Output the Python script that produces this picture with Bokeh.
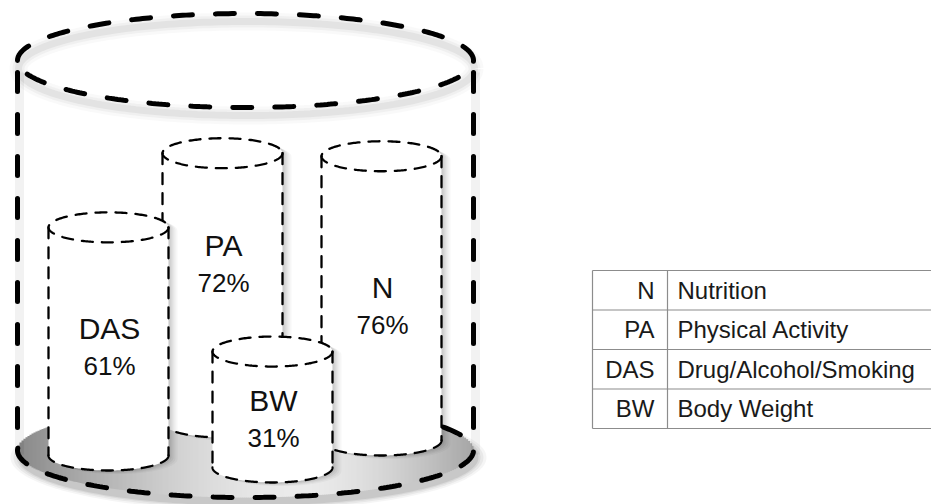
import numpy as np
from bokeh.plotting import figure
from bokeh.models import Range1d
from bokeh.core.properties import value
from bokeh.embed import file_html
from bokeh.resources import INLINE

# ---------------- data ----------------
categories = ["DAS", "PA", "N", "BW"]
percent = [61, 72, 76, 31]
legend_abbr = ["N", "PA", "DAS", "BW"]
legend_names = ["Nutrition", "Physical Activity", "Drug/Alcohol/Smoking", "Body Weight"]

# ---------------- layout (page pixels) ----------------
cyl_cx = {"DAS": 108, "PA": 222, "N": 381, "BW": 272}
cyl_base = {"DAS": 455, "PA": 422, "N": 440, "BW": 467}
label_y = {"DAS": 328, "PA": 245, "N": 287, "BW": 400}
draw_order = ["PA", "N", "DAS", "BW"]
PX_PER_PCT = 3.74
CYL_RX, CYL_RY = 60, 15

OUT_CX, OUT_RX = 245, 228
OUT_TOP_CY, OUT_TOP_RY = 60, 47
FLOOR_CY, FLOOR_RY = 450, 47

FONT = value("Liberation Sans")
W, H = 931, 504

p = figure(width=W, height=H, output_backend="svg", toolbar_location=None,
           x_range=Range1d(0, W), y_range=Range1d(H, 0),
           x_axis_location=None, y_axis_location=None, min_border=0,
           outline_line_color=None, background_fill_color="white",
           border_fill_color="white")
p.grid.visible = False


def ell(cx, cy, rx, ry, t0, t1, n=240):
    t = np.radians(np.linspace(t0, t1, n))
    return cx + rx * np.cos(t), cy + ry * np.sin(t)


# ---------------- floor: shadow + gradient ----------------
for grow, a in [(10, 0.04), (7, 0.05), (4, 0.06), (2, 0.08)]:
    fx, fy = ell(OUT_CX + 3, FLOOR_CY + 7, OUT_RX + grow, FLOOR_RY + grow * 0.6, 0, 360)
    p.patch(fx, fy, fill_color="black", fill_alpha=a, line_color=None)

# horizontal gradient in thin strips clipped to the floor ellipse
STRIP = 2.0
edges = np.arange(OUT_CX - OUT_RX, OUT_CX + OUT_RX + STRIP, STRIP)
x_left, x_right = edges[:-1], np.minimum(edges[1:] + 0.6, OUT_CX + OUT_RX)
xm = (x_left + x_right) / 2
half = FLOOR_RY * np.sqrt(np.clip(1 - ((xm - OUT_CX) / OUT_RX) ** 2, 0, 1))
HLX = 300
u = np.where(xm < HLX, (HLX - xm) / (HLX - (OUT_CX - OUT_RX)), (xm - HLX) / (OUT_CX + OUT_RX - HLX))
shade = np.where(xm < HLX, 236 - 100 * u ** 1.6, 236 - 70 * u ** 1.6).astype(int)
colors = ["#%02x%02x%02x" % (c, c, c) for c in shade]
p.quad(left=x_left, right=x_right, top=FLOOR_CY - half, bottom=FLOOR_CY + half,
       fill_color=colors, line_color=None)

OUT_STYLE = dict(line_color="black", line_width=5, line_dash="19 23", line_cap="round")
fx, fy = ell(OUT_CX, FLOOR_CY, OUT_RX, FLOOR_RY, -30, 200)
p.line(fx, fy, **OUT_STYLE)

# outer side lines
for sx in (OUT_CX - OUT_RX, OUT_CX + OUT_RX):
    p.line([sx + 2, sx + 2], [OUT_TOP_CY + 12, FLOOR_CY + 4], line_color="black",
           line_alpha=0.05, line_width=9)
    p.line([sx, sx], [OUT_TOP_CY + 12, FLOOR_CY], **OUT_STYLE)

# ---------------- inner cylinders ----------------
IN_STYLE = dict(line_color="black", line_width=2.3, line_dash="11 9", line_cap="round")
vals = dict(zip(categories, percent))
for cat in draw_order:
    cx = cyl_cx[cat]
    base = cyl_base[cat]
    top = base - vals[cat] * PX_PER_PCT
    bx, by = ell(cx, top, CYL_RX, CYL_RY, 180, 360)
    fx2, fy2 = ell(cx, base, CYL_RX, CYL_RY, 0, 180)
    sil_x = np.concatenate([bx, fx2])
    sil_y = np.concatenate([by, fy2])
    for d, a in [(9, 0.03), (7, 0.04), (5, 0.05), (3, 0.06), (1, 0.06)]:
        p.patch(sil_x + d, sil_y + d * 0.4, fill_color="black", fill_alpha=a, line_color=None)
    p.patch(sil_x, sil_y, fill_color="white", line_color=None)
    tx, ty = ell(cx, top, CYL_RX, CYL_RY, 0, 360)
    p.line(tx, ty, **IN_STYLE)
    p.line(fx2, fy2, **IN_STYLE)
    p.line([cx - CYL_RX, cx - CYL_RX], [top, base], **IN_STYLE)
    p.line([cx + CYL_RX, cx + CYL_RX], [top, base], **IN_STYLE)

# labels
p.text(x=[cyl_cx[c] + 1 for c in categories], y=[label_y[c] for c in categories],
       text=categories, text_font=FONT, text_font_size="30px", text_color="#111111",
       text_align="center", text_baseline="middle")
p.text(x=[cyl_cx[c] + 1 for c in categories], y=[label_y[c] + 37 for c in categories],
       text=[f"{v}%" for v in percent], text_font=FONT, text_font_size="26px",
       text_color="#111111", text_align="center", text_baseline="middle")

# ---------------- outer top ellipse ----------------
sx, sy = ell(OUT_CX, OUT_TOP_CY + 8, OUT_RX, OUT_TOP_RY, 0, 360)
for w, a in [(18, 0.025), (12, 0.035), (7, 0.05)]:
    p.line(sx + 1, sy, line_color="black", line_alpha=a, line_width=w)
tx, ty = ell(OUT_CX, OUT_TOP_CY, OUT_RX, OUT_TOP_RY, 180, 540, 400)
p.line(tx, ty, **OUT_STYLE)

# ---------------- legend table ----------------
T_LEFT, T_RIGHT, T_TOP, ROW_H, T_DIV = 592, 931, 270, 39.5, 667
nrow = len(legend_abbr)
hy = [T_TOP + ROW_H * i for i in range(nrow + 1)]
p.segment(x0=[T_LEFT] * len(hy), x1=[T_RIGHT] * len(hy), y0=hy, y1=hy,
          line_color="#8c8c8c", line_width=1.2)
p.segment(x0=[T_LEFT, T_DIV], x1=[T_LEFT, T_DIV], y0=[hy[0], hy[0]], y1=[hy[-1], hy[-1]],
          line_color="#8c8c8c", line_width=1.2)
row_y = [T_TOP + ROW_H * (i + 0.5) for i in range(nrow)]
p.text(x=[654] * nrow, y=row_y, text=legend_abbr, text_font=FONT, text_font_size="24px",
       text_color="#1a1a1a", text_align="right", text_baseline="middle")
p.text(x=[677] * nrow, y=row_y, text=legend_names, text_font=FONT, text_font_size="24px",
       text_color="#1a1a1a", text_align="left", text_baseline="middle")

open("out.html", "w").write(file_html(p, INLINE))
